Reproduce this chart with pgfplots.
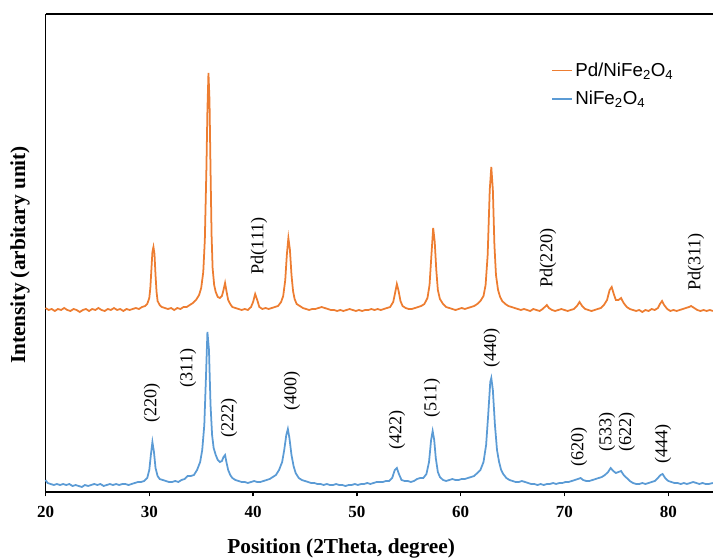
\documentclass[border=0pt]{standalone}
\usepackage{fontspec}
\setmainfont{Liberation Serif}
\newfontfamily\legfont{Liberation Sans}
\usepackage{pgfplots}
\pgfplotsset{compat=1.18}
\usetikzlibrary{calc}
\definecolor{xorange}{HTML}{ED7D31}
\definecolor{xblue}{HTML}{5B9BD5}
\begin{document}
\begin{tikzpicture}
\begin{axis}[
    name=ax, scale only axis,
    width=20.025cm, height=14.34cm,
    xmin=20, xmax=84.31, ymin=-2, ymax=476,
    axis x line*=bottom, axis y line*=left,
    axis line style={line width=1.6pt, black},
    xtick={20,30,...,80}, ytick=\empty,
    tick align=outside, major tick length=0.13cm,
    tick style={line width=1.2pt, black},
    /pgf/number format/assume math mode=true,
    x tick label style={font=\fontsize{14.5}{17}\selectfont\bfseries, yshift=-0.17cm},
    xlabel={Position (2Theta, degree)},
    xlabel style={font=\fontsize{18.2}{21}\selectfont\bfseries, at={(rel axis cs:0.443,0)}, anchor=center, yshift=-1.68cm},
    ylabel={Intensity (arbitary unit)},
    ylabel style={font=\fontsize{18.2}{21}\selectfont\bfseries, at={(rel axis cs:-0.038,0.496)}, anchor=center},
    clip=false,
    legend style={draw=none, fill=none, at={(rel axis cs:0.752,0.908)}, anchor=north west,
        font=\legfont\fontsize{16}{19}\selectfont, row sep=7pt},
    legend cell align=left,
    every axis plot/.append style={line width=1.5pt},
  ]
  \addplot[xorange, mark=none] coordinates {
    (20.0,182) (20.3,180) (20.6,181) (20.9,179) (21.2,181) (21.5,180) (21.8,182) (22.1,180) (22.4,179) (22.7,181)
    (23.0,180) (23.3,178) (23.6,180) (23.9,181) (24.2,179) (24.5,181) (24.8,180) (25.1,182) (25.4,180) (25.7,179)
    (26.0,181) (26.3,180) (26.6,182) (26.9,180) (27.2,181) (27.5,179) (27.8,181) (28.1,180) (28.4,181) (28.7,182)
    (29.0,181) (29.3,183) (29.6,184) (29.8,186) (30.0,192) (30.1,202) (30.2,220) (30.3,238) (30.4,243) (30.5,236)
    (30.6,215) (30.7,198) (30.8,189) (31.0,185) (31.2,183) (31.5,182) (31.8,181) (32.1,182) (32.4,180) (32.7,182)
    (33.0,181) (33.3,183) (33.6,183) (33.9,185) (34.2,187) (34.5,190) (34.8,195) (35.0,202) (35.2,218) (35.35,250)
    (35.5,320) (35.6,380) (35.7,417) (35.8,390) (35.9,320) (36.0,255) (36.1,222) (36.25,205) (36.4,198) (36.6,193)
    (36.8,192) (37.0,194) (37.15,200) (37.3,207) (37.45,198) (37.6,190) (37.8,186) (38.0,183) (38.3,182) (38.6,181)
    (38.9,180) (39.2,181) (39.5,180) (39.8,183) (40.0,188) (40.2,196) (40.4,190) (40.6,183) (40.9,181) (41.2,182)
    (41.5,181) (41.8,182) (42.1,183) (42.4,184) (42.7,188) (42.9,194) (43.1,210) (43.25,235) (43.4,252) (43.55,240)
    (43.7,215) (43.85,199) (44.0,191) (44.2,186) (44.5,184) (44.8,182) (45.1,181) (45.4,180) (45.7,181) (46.0,181)
    (46.3,182) (46.6,183) (46.9,182) (47.2,181) (47.5,180) (47.8,180) (48.1,179) (48.4,180) (48.7,179) (49.0,180)
    (49.3,181) (49.6,180) (49.9,179) (50.2,180) (50.5,179) (50.8,180) (51.1,180) (51.4,181) (51.7,180) (52.0,181)
    (52.3,180) (52.6,181) (52.9,182) (53.2,183) (53.5,188) (53.7,198) (53.85,206) (54.0,200) (54.2,189) (54.4,184)
    (54.7,182) (55.0,181) (55.3,181) (55.6,182) (55.9,183) (56.2,184) (56.5,186) (56.8,192) (57.0,205) (57.2,238)
    (57.35,262) (57.5,248) (57.65,220) (57.8,200) (58.0,191) (58.3,186) (58.6,183) (58.9,182) (59.2,181) (59.5,180)
    (59.8,181) (60.1,182) (60.4,181) (60.7,182) (61.0,183) (61.3,184) (61.6,186) (61.9,189) (62.2,194) (62.4,205)
    (62.6,235) (62.8,300) (62.95,323) (63.1,300) (63.25,245) (63.4,215) (63.6,200) (63.8,193) (64.0,189) (64.3,186)
    (64.6,184) (64.9,183) (65.2,182) (65.5,181) (65.8,180) (66.1,181) (66.4,180) (66.7,179) (67.0,181) (67.3,180)
    (67.6,179) (67.9,181) (68.1,183) (68.3,185) (68.5,182) (68.8,180) (69.1,179) (69.4,180) (69.7,181) (70.0,180)
    (70.3,179) (70.6,180) (70.9,181) (71.2,184) (71.45,188) (71.7,184) (72.0,181) (72.3,180) (72.6,179) (72.9,180)
    (73.2,181) (73.5,182) (73.8,185) (74.1,190) (74.35,200) (74.55,203) (74.75,196) (74.95,190) (75.2,190) (75.45,192)
    (75.7,187) (76.0,183) (76.3,181) (76.6,180) (76.9,179) (77.2,180) (77.5,178) (77.8,180) (78.1,179) (78.4,181)
    (78.7,180) (79.0,182) (79.2,186) (79.4,189) (79.6,185) (79.9,181) (80.2,179) (80.5,180) (80.8,179) (81.1,180)
    (81.4,181) (81.7,182) (82.0,183) (82.2,184) (82.5,182) (82.8,180) (83.1,179) (83.4,180) (83.7,179) (84.0,180)
    (84.3,179)
  };
  \addlegendentry{Pd/NiFe\textsubscript{2}O\textsubscript{4}}
  \addplot[xblue, mark=none] coordinates {
    (20.0,10) (20.2,7) (20.5,6) (20.8,5) (21.1,6) (21.4,5) (21.7,6) (22.0,5) (22.3,6) (22.6,4)
    (22.9,5) (23.2,4) (23.5,3) (23.8,5) (24.1,4) (24.4,5) (24.7,6) (25.0,5) (25.3,6) (25.6,4)
    (25.9,5) (26.2,6) (26.5,5) (26.8,6) (27.1,5) (27.4,6) (27.7,6) (28.0,5) (28.3,6) (28.6,7)
    (28.9,8) (29.2,8) (29.5,9) (29.8,12) (30.0,20) (30.15,35) (30.3,48) (30.45,38) (30.6,22) (30.8,14)
    (31.0,11) (31.3,10) (31.6,9) (31.9,8) (32.2,8) (32.5,9) (32.8,8) (33.1,10) (33.4,11) (33.7,14)
    (34.0,14) (34.3,15) (34.6,20) (34.9,28) (35.1,40) (35.3,65) (35.45,110) (35.6,158) (35.75,140) (35.9,85)
    (36.05,55) (36.2,42) (36.4,35) (36.6,30) (36.8,28) (37.0,29) (37.15,33) (37.3,35) (37.45,27) (37.6,20)
    (37.8,15) (38.0,12) (38.3,10) (38.6,9) (38.9,8) (39.2,8) (39.5,7) (39.8,8) (40.1,9) (40.4,8)
    (40.7,8) (41.0,9) (41.3,10) (41.6,11) (41.9,13) (42.2,15) (42.5,20) (42.8,28) (43.0,40) (43.2,55)
    (43.35,61) (43.5,52) (43.7,35) (43.9,24) (44.1,17) (44.4,12) (44.7,10) (45.0,9) (45.3,8) (45.6,7)
    (45.9,7) (46.2,6) (46.5,6) (46.8,5) (47.1,6) (47.4,5) (47.7,5) (48.0,6) (48.3,5) (48.6,5)
    (48.9,4) (49.2,5) (49.5,5) (49.8,6) (50.1,5) (50.4,6) (50.7,6) (51.0,7) (51.3,6) (51.6,7)
    (51.9,8) (52.2,8) (52.5,8) (52.8,9) (53.1,9) (53.4,12) (53.65,20) (53.85,22) (54.05,16) (54.3,10)
    (54.6,9) (54.9,9) (55.2,8) (55.5,9) (55.8,11) (56.1,12) (56.4,12) (56.7,16) (56.95,28) (57.15,50)
    (57.3,59) (57.45,50) (57.6,32) (57.8,18) (58.0,13) (58.3,10) (58.6,9) (58.9,10) (59.2,11) (59.5,10)
    (59.8,10) (60.1,11) (60.4,11) (60.7,12) (61.0,13) (61.3,14) (61.6,17) (61.9,20) (62.2,28) (62.45,45)
    (62.65,75) (62.85,108) (62.95,112) (63.1,100) (63.3,65) (63.5,40) (63.7,28) (63.9,20) (64.1,16) (64.4,12)
    (64.7,10) (65.0,9) (65.3,8) (65.6,8) (65.9,9) (66.2,8) (66.5,7) (66.8,6) (67.1,6) (67.4,5)
    (67.7,6) (68.0,5) (68.3,6) (68.6,6) (68.9,7) (69.2,6) (69.5,7) (69.8,7) (70.1,8) (70.4,8)
    (70.7,9) (71.0,10) (71.3,11) (71.55,12) (71.8,10) (72.1,9) (72.4,9) (72.7,10) (73.0,11) (73.3,12)
    (73.6,13) (73.9,15) (74.2,18) (74.45,22) (74.7,19) (74.95,17) (75.2,18) (75.45,19) (75.7,15) (76.0,12)
    (76.3,9) (76.6,7) (76.9,6) (77.2,6) (77.5,7) (77.8,6) (78.1,7) (78.4,8) (78.7,9) (79.0,12)
    (79.25,15) (79.45,16) (79.7,12) (80.0,9) (80.3,8) (80.6,7) (80.9,7) (81.2,6) (81.5,7) (81.8,6)
    (82.1,7) (82.4,8) (82.7,7) (83.0,6) (83.3,7) (83.6,6) (83.9,6) (84.3,7)
  };
  \addlegendentry{NiFe\textsubscript{2}O\textsubscript{4}}
  % peak labels
  \begin{scope}[every node/.style={rotate=90, anchor=center, font=\fontsize{15.5}{18}\selectfont}]
    \node at (axis cs:30.26,87) {(220)};
    \node at (axis cs:33.73,122) {(311)};
    \node at (axis cs:37.68,72) {(222)};
    \node at (axis cs:43.75,99) {(400)};
    \node at (axis cs:53.87,60) {(422)};
    \node at (axis cs:57.24,92) {(511)};
    \node at (axis cs:63.0,142) {(440)};
    \node at (axis cs:71.4,43) {(620)};
    \node at (axis cs:74.1,58) {(533)};
    \node at (axis cs:76.0,58) {(622)};
    \node at (axis cs:79.5,46) {(444)};
    \node at (axis cs:40.57,244) {Pd(111)};
    \node at (axis cs:68.41,232) {Pd(220)};
    \node at (axis cs:82.67,228) {Pd(311)};
  \end{scope}
\end{axis}
\draw[line width=1.6pt] (ax.north west) -- (ax.north east);
\pgfresetboundingbox
\path[use as bounding box] ($(ax.south west)+(-1.365cm,-1.98cm)$) rectangle ($(ax.north east)+(0,0.42cm)$);
\end{tikzpicture}
\end{document}
